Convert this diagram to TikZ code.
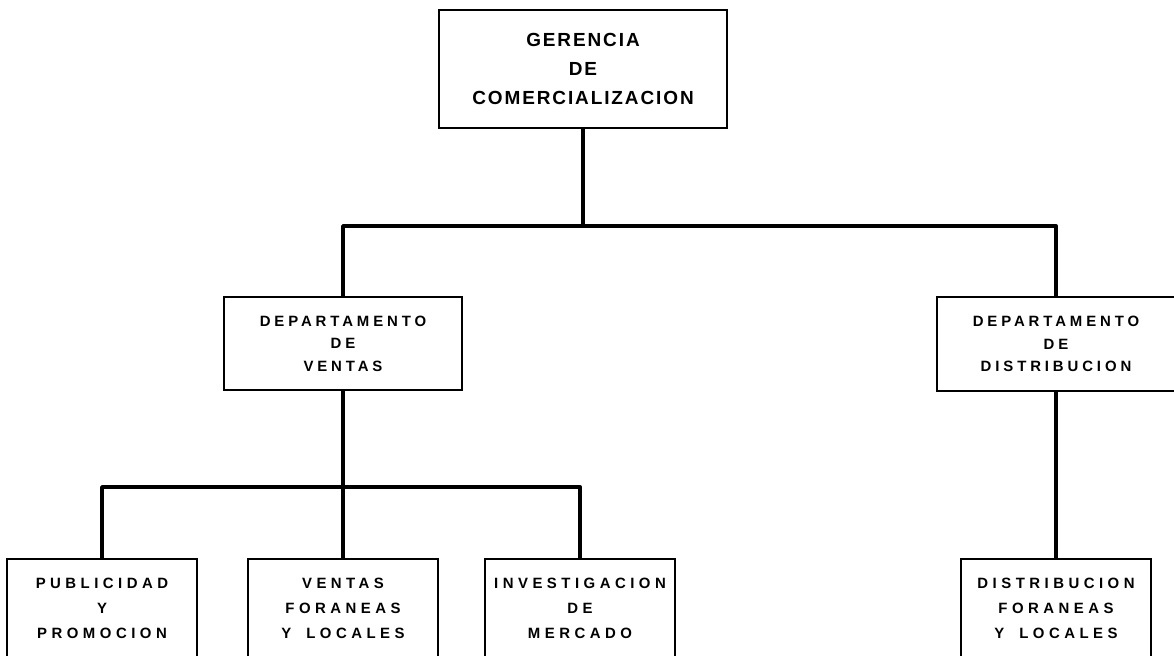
\documentclass[tikz,border=0pt]{standalone}
\usepackage{fontspec}
\newfontfamily\headfont{Liberation Sans}[LetterSpace=10]
\newfontfamily\deptfont{Liberation Sans}[LetterSpace=26]
\newfontfamily\unitfont{Liberation Sans}[LetterSpace=30]
\begin{document}
\begin{tikzpicture}[%
% common options for the boxes:
headbox/.style = {draw, line width=1.1pt, align=center, inner sep=0,
            minimum width=5.76cm, minimum height=2.36cm,
            font=\headfont\bfseries\fontsize{10.8}{16.7}\selectfont},
deptbox/.style = {draw, line width=1.1pt, align=center, inner sep=0,
            minimum width=4.76cm, minimum height=1.87cm,
            font=\deptfont\bfseries\fontsize{8.5}{12.8}\selectfont},
unitbox/.style = {draw, line width=1.1pt, align=center, inner sep=0,
            minimum width=3.8cm, minimum height=1.96cm,
            font=\unitfont\bfseries\fontsize{8.5}{14.2}\selectfont},
% common options for the connectors:
link/.style = {line width=2.2pt, line join=round}]
\useasboundingbox[fill=white] (0,0) rectangle (23.48,-13.1);
\node[headbox] (gerencia) at (11.66,-1.38) {GERENCIA\\DE\\COMERCIALIZACION};
\node[deptbox] (dventas) at (6.86,-6.87) {DEPARTAMENTO\\DE\\VENTAS};
\node[deptbox] (ddistrib) at (21.12,-6.88) {DEPARTAMENTO\\DE\\DISTRIBUCION};
\node[unitbox] (publicidad) at (2.04,-12.16) {PUBLICIDAD\\Y\\PROMOCION};
\node[unitbox] (vforaneas) at (6.86,-12.16) {VENTAS\\FORANEAS\\Y\hspace{1em}LOCALES};
\node[unitbox] (investig) at (11.6,-12.16) {INVESTIGACION\\DE\\MERCADO};
\node[unitbox] (dforaneas) at (21.12,-12.16) {DISTRIBUCION\\FORANEAS\\Y\hspace{1em}LOCALES};
\coordinate (topbar) at (0,-4.52);
\coordinate (lowbar) at (0,-9.74);
\draw[link] (gerencia.south) -- (gerencia.south |- topbar) -| (dventas.north);
\draw[link] (gerencia.south |- topbar) -| (ddistrib.north);
\draw[link] (dventas.south) -- (vforaneas.north);
\draw[link] (publicidad.north) -- (publicidad.north |- lowbar) -- (investig.north |- lowbar) -- (investig.north);
\draw[link] (ddistrib.south) -- (dforaneas.north);
\end{tikzpicture}
\end{document}
